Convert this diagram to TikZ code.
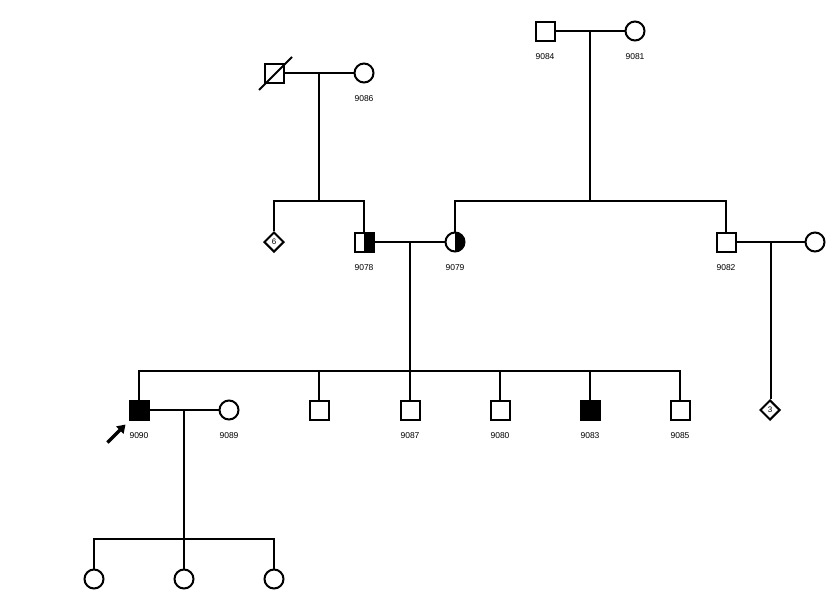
\documentclass[tikz,border=0pt]{standalone}
\usepackage{fontspec}
\setmainfont{Liberation Sans}
\usetikzlibrary{shapes.geometric, arrows.meta, positioning}

\tikzset{
  male/.style={draw, rectangle, minimum size=19pt, inner sep=0pt},
  female/.style={draw, circle, minimum size=19pt, inner sep=0pt},
  unknown/.style={draw, diamond, minimum size=20pt, inner sep=0pt, font=\fontsize{8}{8}\selectfont},
  halfright/.style={path picture={\fill (path picture bounding box.north) rectangle (path picture bounding box.south east);}},
  lbl/.style={font=\fontsize{8.5}{10}\selectfont, inner sep=1pt},
  proband/.style={-{Triangle[length=8pt,width=10pt]}, line width=3.5pt}
}

\begin{document}
\begin{tikzpicture}[x=1pt, y=-1pt, line width=2pt]
      \useasboundingbox (0,0) rectangle (834,608);
      % generation I
      \node[male] (p9084) at (545,31) {};
      \node[female] (p9081) at (635,31) {};
      \node[male] (d1) at (274,73) {};
      \node[female] (p9086) at (364,73) {};
      \draw ([shift={(-15,17)}]d1.center) -- ([shift={(18,-16)}]d1.center);
      % generation II
      \node[unknown] (n6) at (274,242) {6};
      \node[male, halfright] (p9078) at (364,242) {};
      \node[female, halfright] (p9079) at (455,242) {};
      \node[male] (p9082) at (726,242) {};
      \node[female] (w9082) at (815,242) {};
      % generation III
      \node[male, fill=black] (p9090) at (139,410) {};
      \node[female] (p9089) at (229,410) {};
      \node[male] (c2) at (319,410) {};
      \node[male] (p9087) at (410,410) {};
      \node[male] (p9080) at (500,410) {};
      \node[male, fill=black] (p9083) at (590,410) {};
      \node[male] (p9085) at (680,410) {};
      \node[unknown] (n3) at (770,410) {3};
      % generation IV
      \node[female] (g1) at (94,579) {};
      \node[female] (g2) at (184,579) {};
      \node[female] (g3) at (274,579) {};
      % labels
      \foreach \p in {9084,9081,9086,9078,9079,9082,9090,9089,9087,9080,9083,9085}
        \node[lbl, below=10pt of p\p] {\p};
      % marriages
      \draw (p9084) -- coordinate (m1) (p9081);
      \draw (d1) -- coordinate (m2) (p9086);
      \draw (p9078) -- coordinate (m3) (p9079);
      \draw (p9082) -- coordinate (m4) (w9082);
      \draw (p9090) -- coordinate (m5) (p9089);
      % sibships
      \coordinate (s1) at (m1 |- 0,201);
      \coordinate (s2) at (m2 |- 0,201);
      \coordinate (s3) at (m3 |- 0,371);
      \coordinate (s4) at (m5 |- 0,539);
      \draw (m1) -- (s1);
      \draw (p9079.north) |- (s1) -| (p9082.north);
      \draw (m2) -- (s2);
      \draw (n6.north) |- (s2) -| (p9078.north);
      \draw (m3) -- (s3);
      \draw (p9090.north) |- (s3) -| (p9085.north);
      \foreach \c in {c2,p9087,p9080,p9083}
        \draw (\c.north) -- (\c.north |- s3);
      \draw (m4) -- (m4 |- n3.north);
      \draw (m5) -- (s4);
      \draw (g1.north) |- (s4) -| (g3.north);
      \draw (g2.north) -- (s4);
      % proband
      \coordinate (pa) at ([shift={(-21,22)}]p9090.south west);
      \draw[proband] (pa) -- ([shift={(-3,4)}]p9090.south west);
\end{tikzpicture}
\end{document}
